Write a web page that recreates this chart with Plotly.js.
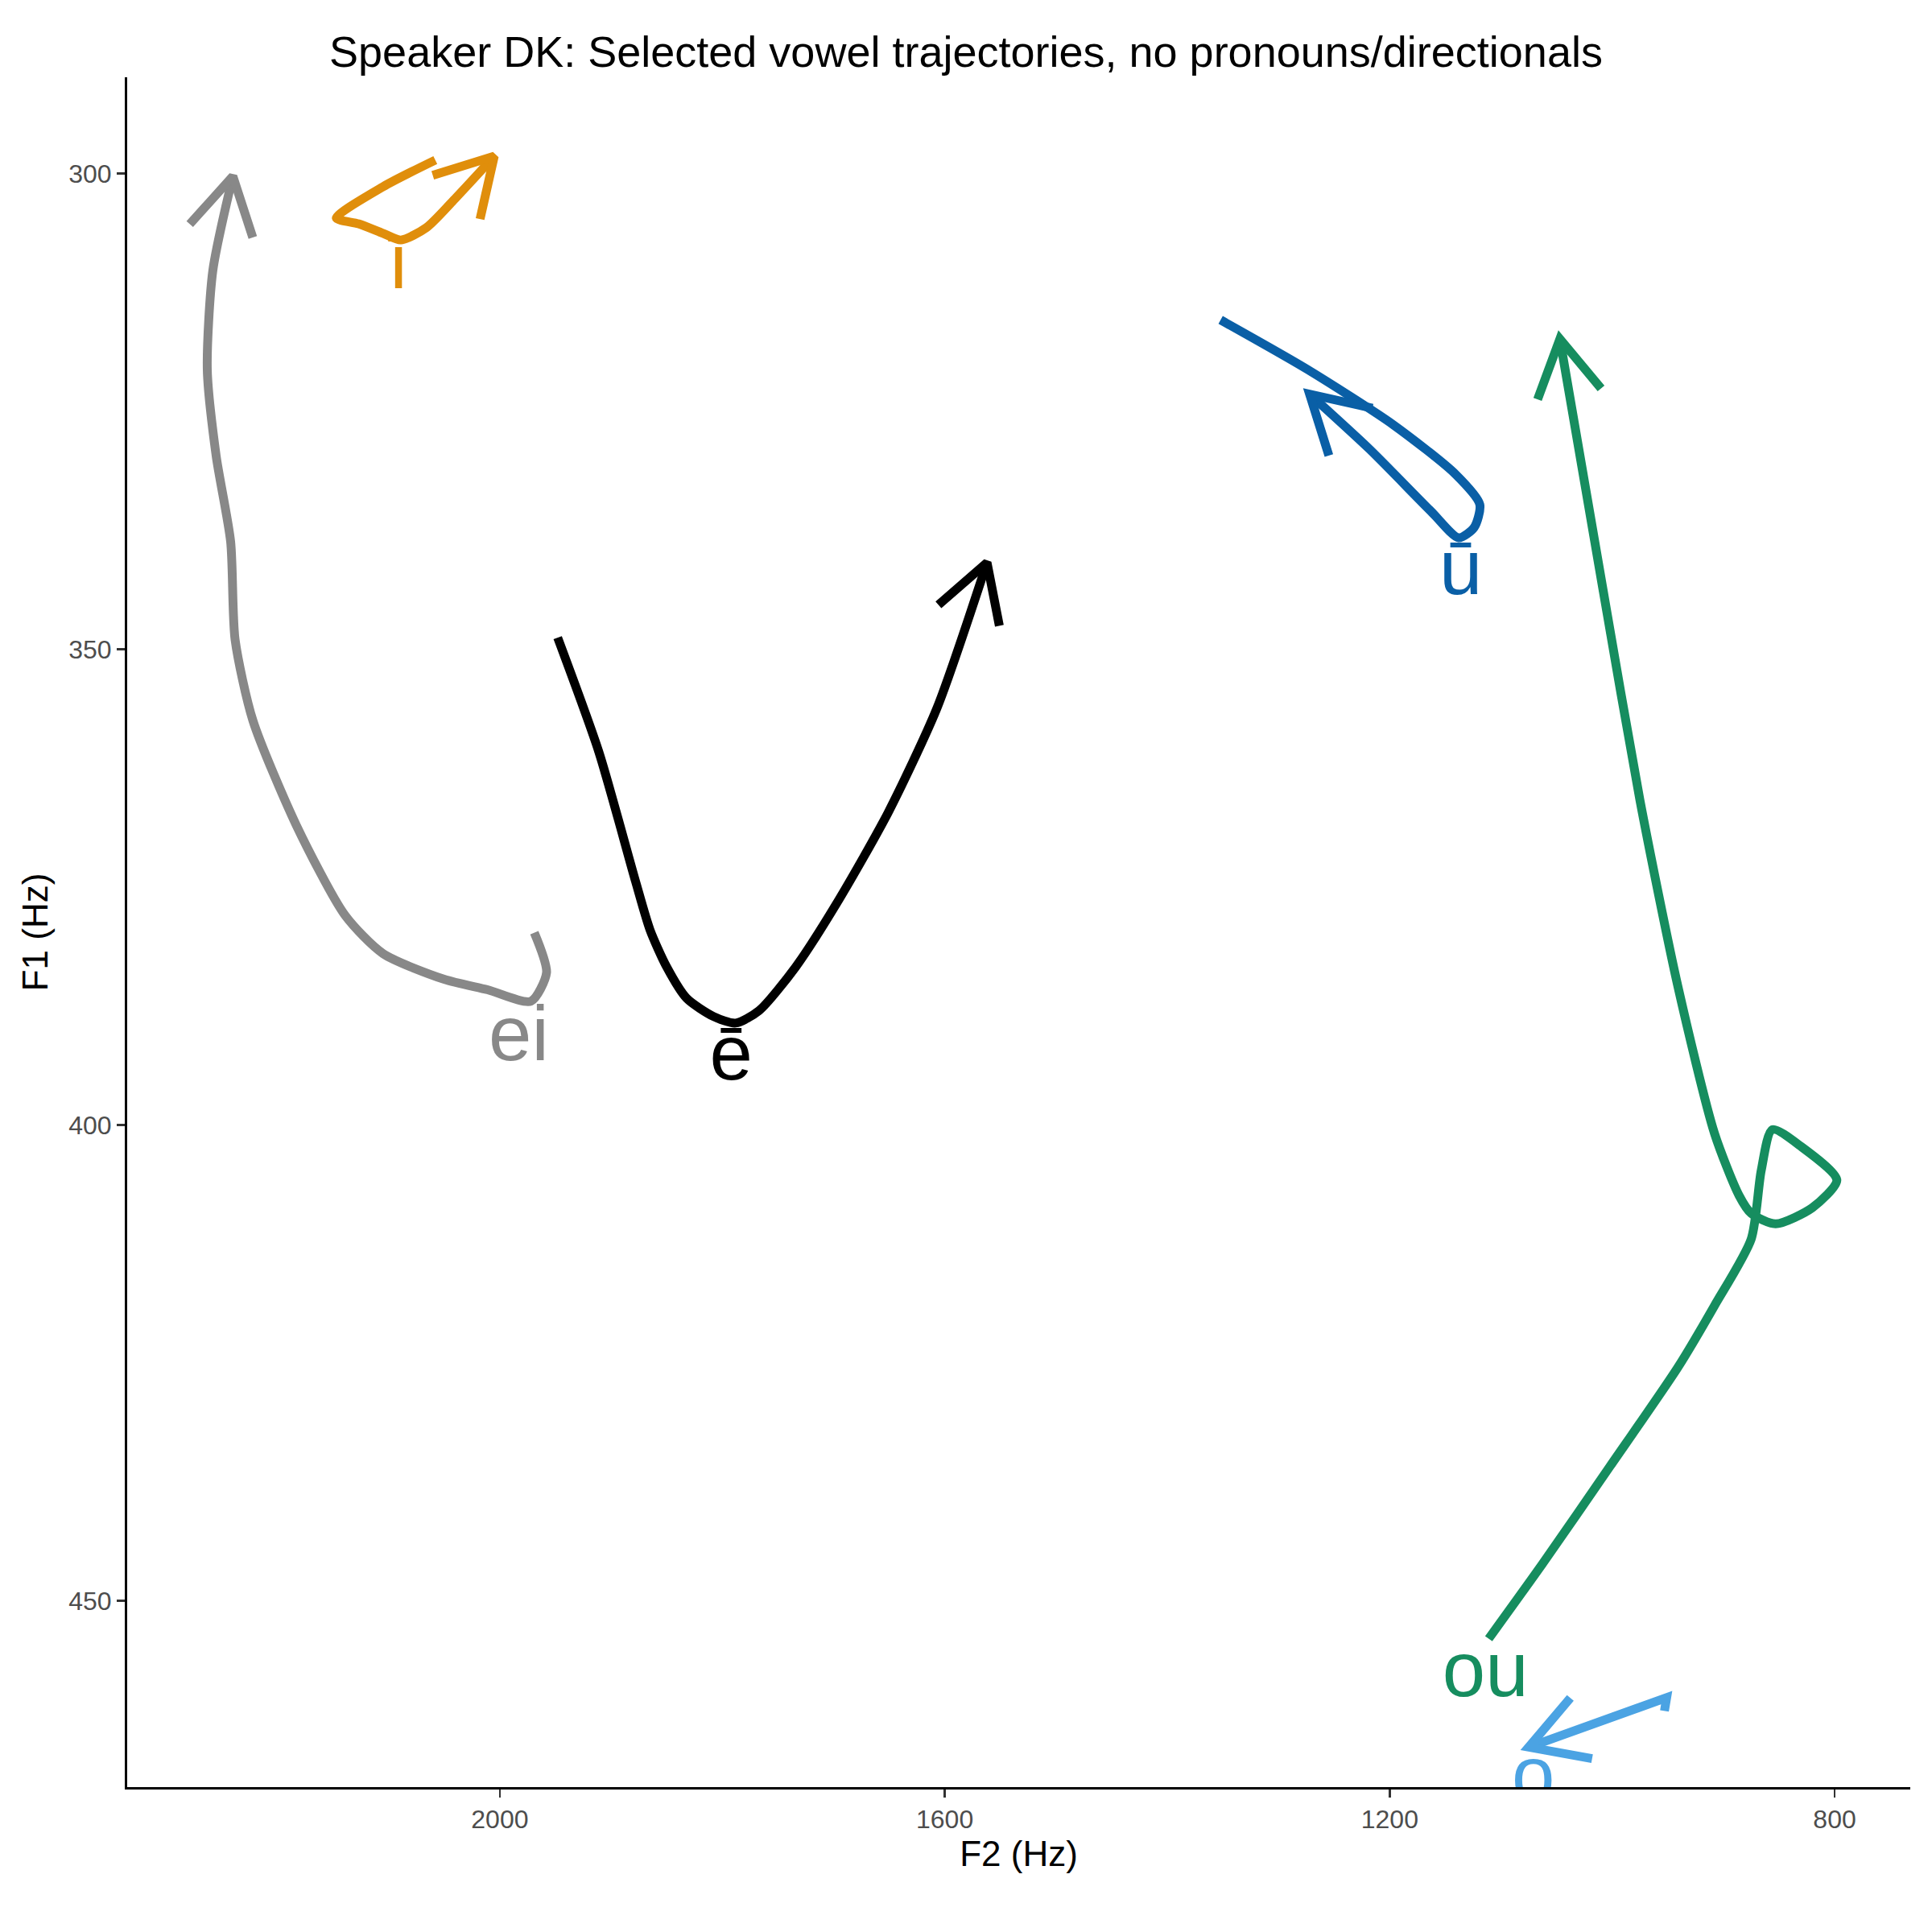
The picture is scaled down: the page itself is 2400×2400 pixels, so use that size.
<!DOCTYPE html>
<html><head><script src="https://cdn.plot.ly/plotly-3.0.1.min.js"></script>
<style>body{margin:0}</style></head><body><div id="c" style="width:2400px;height:2400px"></div>
<script>
const eiF2=[1969,1958,1972,2011,2050,2105,2139,2183,2222,2238,2242,2255,2263,2258,2240];
const eiF1=[379.8,384,387,385.8,384.7,382,378,368.5,357.5,349,338.7,329.7,320.6,310.2,300.3];
const iF2=[2058,2105,2147,2127,2105,2089,2066,2039,2005];
const iF1=[298.6,301.4,304.7,305.3,306.3,307,305.7,302.5,298.2];
const uF2=[1352,1274,1197,1141,1119,1124,1138,1163,1218,1272];
const uF1=[315.4,320.6,326.4,331.6,334.8,337.2,338.3,335.5,329,323.2];
const eF2=[1948,1911,1878,1865,1850,1832,1808,1788,1767,1734,1695,1651,1607,1562];
const eF1=[348.8,360.8,374.4,379.5,383.4,386.7,388.6,389.3,388,383.4,376.3,367.2,356.2,340.9];
const ouF2=[1111,1063,1002,941,908,875,866,856,831,798,820,853,875,886,908,941,975,1008,1047];
const ouF1=[454,446.2,435.9,425.5,419,412,404.8,400.5,402.2,405.8,408.7,410.4,409.3,407.4,400.9,385.4,365.9,343.9,317.4];
const oF2=[953,951,1075];
const oF1=[461.6,460.2,465.4];
const labels=['ei','ī','ū','ē','ou','o'];
const labelF2=[1983,2091,1136,1792,1114,1071];
const labelF1=[391.2,310,342.2,393.2,458,469];
const colors=['#888888','#E08E0B','#0A5FA6','#000000','#168D5F','#4BA3E3'];
const series=[[eiF2,eiF1],[iF2,iF1],[uF2,uF1],[eF2,eF1],[ouF2,ouF1],[oF2,oF1]];
const xr=[2335,732], yr=[469.6,289.9];
const W=2215,H=2124;
const sx=W/(xr[0]-xr[1]), sy=H/(yr[0]-yr[1]);
const traces=[];
series.forEach((s,i)=>{
  const [x,y]=s; const n=x.length;
  traces.push({x:x,y:y,mode:'lines',line:{color:colors[i],width:11,shape:i===5?'linear':'spline',smoothing:0.7},hoverinfo:'skip'});
  const dx=-(x[n-1]-x[n-2])*sx, dy=(y[n-1]-y[n-2])*sy;
  const L=Math.hypot(dx,dy), ux=dx/L, uy=dy/L, len=80, a=Math.PI/6;
  const hx=[],hy=[];
  [a,-a].forEach((ang,k)=>{
    const bx=-(ux*Math.cos(ang)-uy*Math.sin(ang))*len, by=-(ux*Math.sin(ang)+uy*Math.cos(ang))*len;
    hx.push(x[n-1]-bx/sx); hy.push(y[n-1]+by/sy);
    if(k===0){hx.push(x[n-1]);hy.push(y[n-1]);}
  });
  traces.push({x:hx,y:hy,mode:'lines',line:{color:colors[i],width:11},hoverinfo:'skip'});
  traces.push({x:[labelF2[i]],y:[labelF1[i]],mode:'text',text:[labels[i]],textfont:{size:96,color:colors[i],family:'Liberation Sans'},hoverinfo:'skip'});
});
const ax={showgrid:false,zeroline:false,showline:true,linecolor:'black',linewidth:3,ticks:'outside',tickcolor:'#333',ticklen:10,tickwidth:2.5,tickfont:{size:32,color:'#4d4d4d',family:'Liberation Sans'}};
Plotly.newPlot('c',traces,{width:2400,height:2400,showlegend:false,plot_bgcolor:'white',paper_bgcolor:'white',
 margin:{l:158,r:27,t:96,b:180},
 title:{text:'Speaker DK: Selected vowel trajectories, no pronouns/directionals',x:0.5,y:0.981,font:{size:54,family:'Liberation Sans',color:'black'}},
 xaxis:Object.assign({},ax,{range:xr,tickvals:[2000,1600,1200,800],title:{text:'F2 (Hz)',font:{size:44,family:'Liberation Sans',color:'black'},standoff:8}}),
 yaxis:Object.assign({},ax,{range:yr,tickvals:[300,350,400,450],title:{text:'F1 (Hz)',font:{size:44,family:'Liberation Sans',color:'black'},standoff:12}})
},{staticPlot:true});
</script></body></html>
